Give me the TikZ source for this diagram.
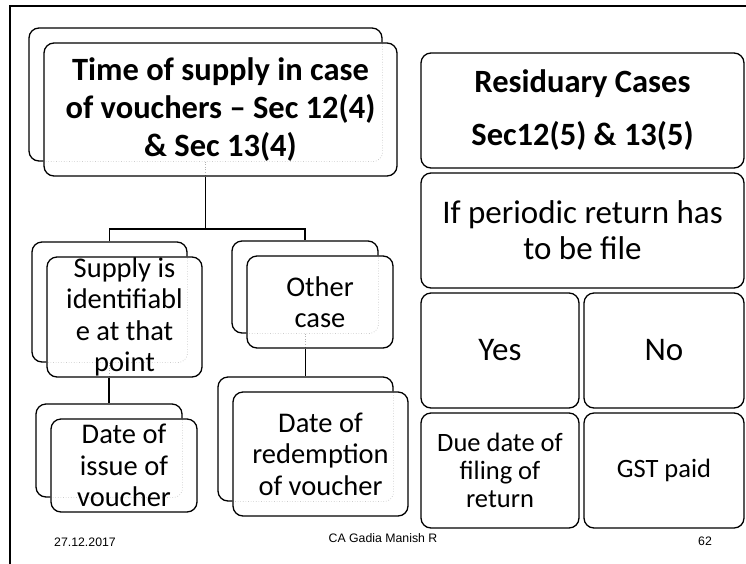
\documentclass[tikz,border=0pt]{standalone}
\usepackage{fontspec}
\setmainfont{Carlito}
\newfontfamily\footfont{Liberation Sans}
\usetikzlibrary{calc}
\pgfdeclarelayer{back}
\pgfdeclarelayer{mid}
\pgfdeclarelayer{ghost}
\pgfsetlayers{back,mid,ghost,main}

\tikzset{
  boxshape/.style={draw=black, line width=1.3pt, rounded corners=10pt, inner sep=0pt},
  txt/.style={align=center, inner sep=0pt, text=black},
  ghost/.style={draw=black!30, line width=0.6pt, dotted},
  conn/.style={draw=black, line width=1.8pt},
  frame/.style={draw=black, line width=2.4pt},
  foot/.style={font=\footfont\fontsize{12.3}{14}\selectfont, inner sep=0pt},
  bigbold/.style={font=\fontsize{32.5}{38}\selectfont\bfseries},
  mainreg/.style={font=\fontsize{28.5}{31.5}\selectfont},
}

% a box with a second, identical box peeking out behind it (up and to the left)
\newcommand\twinbox[6]{%
  \node[boxshape, minimum width=#3, minimum height=#4,
        label={[txt,#5]center:{#6}}] (#1) at (#2) {};
  \begin{pgfonlayer}{mid}
    \fill[white, rounded corners=10pt] (#1.south west) rectangle (#1.north east);
  \end{pgfonlayer}
  \begin{pgfonlayer}{back}
    \node[boxshape, minimum width=#3, minimum height=#4] (#1b)
      at ([shift={(-15,-15)}]#1.center) {};
  \end{pgfonlayer}
  \begin{pgfonlayer}{ghost}
    \begin{scope}
      \clip[rounded corners=10pt] (#1.south west) rectangle (#1.north east);
      \draw[ghost, rounded corners=10pt] (#1b.south west) rectangle (#1b.north east);
    \end{scope}
  \end{pgfonlayer}
}
% faint trace of a connector where it runs behind the front box
\newcommand\ghostlink[1]{%
  \begin{pgfonlayer}{ghost}
    \draw[ghost] (#1b.south) -- (#1b.south |- #1.south);
  \end{pgfonlayer}
}

\begin{document}
\begin{tikzpicture}[x=1pt, y=-1pt]
\useasboundingbox (0,0) rectangle (746,563);

% slide frame
\draw[frame] (10,600) -- (10,6) -- (780,6);

% voucher tree
\twinbox{top}{220.5,109.5}{353pt}{133pt}{bigbold}{Time of supply in case\\of vouchers -- Sec 12(4)\\\& Sec 13(4)}
\twinbox{ident}{124.5,317}{155pt}{120pt}{mainreg}{Supply is\\identifiabl\\e at that\\point}
\twinbox{other}{320,302}{146pt}{92pt}{mainreg}{Other\\case}
\twinbox{issue}{124,465.5}{146pt}{93pt}{mainreg}{Date of\\issue of\\voucher}
\twinbox{redeem}{320.5,454}{175pt}{124pt}{mainreg}{Date of\\redemption\\of voucher}
\ghostlink{top}
\ghostlink{ident}
\ghostlink{other}

% connectors leave each parent at the centre of its rear box
\draw[conn] (topb.south |- top.south) -- ++(0,52) coordinate (bar);
\draw[conn] (identb.north) |- (bar) -| (otherb.north);
\draw[conn] (issueb.north |- ident.south) -- (issueb.north);
\draw[conn] (redeemb.north |- other.south) -- (redeemb.north);

% residuary cases
\node[boxshape, minimum width=323pt, minimum height=115pt, txt,
      font=\fontsize{32.5}{53}\selectfont\bfseries] (resid) at (582.5,110.5)
      {Residuary Cases\\Sec12(5) \& 13(5)};
\node[boxshape, minimum width=323pt, minimum height=115pt, txt,
      font=\fontsize{33}{36}\selectfont] (period) at (582.5,230.5)
      {If periodic return has\\to be file};
\node[boxshape, minimum width=158pt, minimum height=115pt, txt,
      font=\fontsize{33}{36}\selectfont] (yes) at (500,350.5) {Yes};
\node[boxshape, minimum width=160pt, minimum height=115pt, txt,
      font=\fontsize{33}{36}\selectfont] (no) at (664,350.5) {No};
\node[boxshape, minimum width=158pt, minimum height=115pt, txt,
      font=\fontsize{26.5}{28}\selectfont] (due) at (500,470.5)
      {Due date of\\filing of\\return};
\node[boxshape, minimum width=160pt, minimum height=115pt, txt,
      font=\fontsize{26.5}{28}\selectfont] (gst) at (664,470.5) {GST paid};

% footer
\node[foot] (date) at (85,542) {27.12.2017};
\node[foot] (author) at (383,538) {CA Gadia Manish R};
\node[foot] (page) at (705,541) {62};
\end{tikzpicture}
\end{document}
